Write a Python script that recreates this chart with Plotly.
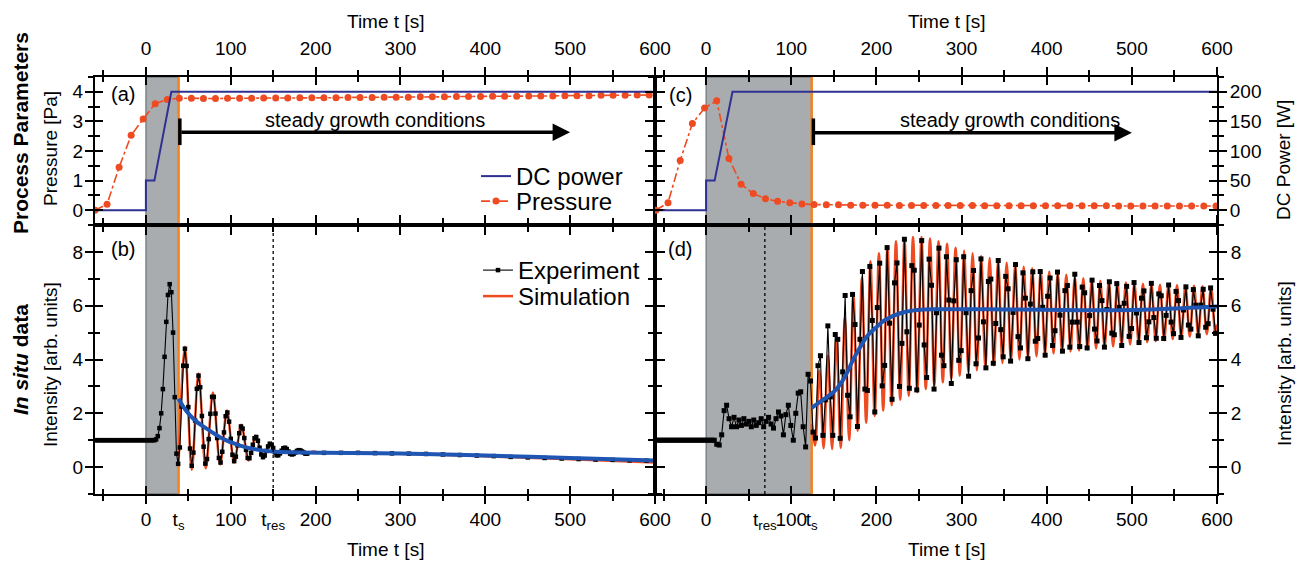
import plotly.graph_objects as go

# ---------------- data ----------------
# (a) / (c) process parameters
power_a_t = [-60, 0, 0, 10, 30, 600]
power_a_w = [0, 0, 50, 50, 200, 200]
power_c_t = [-60, 0, 0, 10, 31, 600]
power_c_w = [0, 0, 50, 50, 200, 200]

pressure_a_t0, pressure_a_dt = -60.0, 14.2
pressure_a_p = [0.0, 0.2, 1.45, 2.53, 3.08, 3.6, 3.74, 3.78, 3.78, 3.77, 3.77, 3.78, 3.78, 3.78,
                3.79, 3.79, 3.79, 3.8, 3.8, 3.8, 3.8, 3.81, 3.81, 3.81, 3.82, 3.82, 3.82, 3.83,
                3.83, 3.83, 3.84, 3.84, 3.84, 3.85, 3.85, 3.85, 3.86, 3.86, 3.86, 3.87, 3.87,
                3.87, 3.88, 3.88, 3.88, 3.89, 3.89]
pressure_c_t0, pressure_c_dt = -59.0, 14.3
pressure_c_p = [0.0, 0.25, 1.68, 2.93, 3.45, 3.7, 1.75, 0.88, 0.56, 0.39, 0.3, 0.25, 0.21, 0.19,
                0.18, 0.18, 0.17, 0.17, 0.17, 0.17, 0.16, 0.16, 0.16, 0.16, 0.16, 0.16, 0.16,
                0.15, 0.15, 0.15, 0.15, 0.15, 0.15, 0.15, 0.15, 0.15, 0.15, 0.15, 0.14, 0.14,
                0.14, 0.14, 0.14, 0.14, 0.14, 0.14, 0.14]

# (b) in situ data, low-rate case
t_s_b, t_res_b = 38.5, 150
exp_b_t0, exp_b_dt = -60.0, 2.0
exp_b_v = [
    1.0, 1.0, 1.0, 1.0, 1.0, 1.0, 1.0, 1.0, 1.0, 1.0, 1.0, 1.0, 1.0, 1.0, 1.0, 1.0, 1.0, 1.0,
    1.0, 1.0, 1.0, 1.0, 1.0, 1.0, 1.0, 1.0, 1.0, 1.0, 1.0, 1.0, 1.0, 1.0, 1.0, 1.0, 1.0, 1.0,
    1.03, 1.15, 1.45, 2.0, 2.9, 4.1, 5.4, 6.4, 6.8, 6.5, 5.0, 2.6, 0.5, 0.12,
    0.73, 2.25, 3.77, 4.4, 3.76, 2.23, 0.69, 0.05, 0.54, 1.73, 2.91, 3.4, 2.97, 1.9, 0.76,
    0.13, 0.3, 1.04, 1.98, 2.61, 2.61, 1.99, 1.08, 0.34, 0.17, 0.57, 1.29, 1.89, 2.03, 1.69,
    1.05, 0.46, 0.22, 0.39, 0.81, 1.26, 1.51, 1.43, 1.08, 0.64, 0.34, 0.33, 0.53, 0.83, 1.07,
    1.12, 0.98, 0.72, 0.47, 0.37, 0.43, 0.6, 0.77, 0.87, 0.84, 0.71, 0.55, 0.44, 0.44, 0.51,
    0.61, 0.7, 0.72, 0.67, 0.58, 0.5, 0.47, 0.49, 0.54, 0.6, 0.63, 0.62, 0.58, 0.54, 0.5, 0.51]
exp_b_tail_t0, exp_b_tail_dt = 190.0, 20.0
exp_b_tail_v = [0.51, 0.53, 0.53, 0.53, 0.52, 0.51, 0.5, 0.49, 0.47, 0.45, 0.43, 0.41, 0.38,
                0.36, 0.34, 0.32, 0.3, 0.28, 0.27, 0.25, 0.24]
sim_b_t = [38.5, 46, 54, 62, 70.5, 79, 87.5, 95.5, 104, 112.5, 121, 129.5, 138, 146.5, 155,
           163.5, 172, 180.5, 189, 197.5, 206, 215, 240, 300, 400, 500, 600]
sim_b_v = [0.15, 4.47, -0.1, 3.48, -0.05, 2.77, 0.1, 2.1, 0.17, 1.57, 0.25, 1.17, 0.33, 0.9,
           0.4, 0.74, 0.46, 0.64, 0.5, 0.58, 0.52, 0.55, 0.54, 0.5, 0.4, 0.29, 0.17]
fit_b_t = [38.5, 45, 52, 60, 72, 91, 111, 131, 150, 170, 210, 300, 400, 500, 600]
fit_b_v = [2.54, 2.2, 1.92, 1.68, 1.42, 1.05, 0.8, 0.65, 0.58, 0.55, 0.53, 0.51, 0.43, 0.34, 0.25]

# (d) in situ data, high-rate case
t_s_d, t_res_d = 124, 69
exp_d_t0, exp_d_dt = -60.0, 2.9
exp_d_v = [
    1.0, 1.0, 1.0, 1.0, 1.0, 1.0, 1.0, 1.0, 1.0, 1.0, 1.0, 1.0, 1.0, 1.0, 1.0, 1.0, 1.0, 1.0,
    1.0, 1.0, 1.0, 1.0, 1.0, 1.0, 1.0,
    0.85, 0.82, 1.2, 2.1, 2.3, 1.8, 1.5, 1.85, 1.5, 1.75, 1.55, 1.8, 1.6, 1.7, 1.5, 1.75, 1.55,
    1.65, 1.8, 1.5, 1.7, 1.85, 1.6, 1.45, 1.8, 2.05, 1.9, 1.2, 1.95, 2.3, 1.55, 1.0, 2.0, 2.75,
    2.8, 1.5, 0.75, 3.45, 3.2, 1.3,
    1.08, 3.77, 4.14, 1.18, 2.5, 5.25, 2.61, 1.18, 4.93, 4.75, 1.07, 3.54, 6.38, 2.67, 1.87,
    6.42, 5.3, 1.51, 4.75, 7.27, 2.9, 2.85, 7.46, 5.45, 2.05, 5.93, 7.58, 3.02, 3.78, 8.16,
    5.35, 2.52, 6.85, 7.59, 3.0, 4.6, 8.47, 5.03, 2.93, 7.49, 7.32, 2.87, 5.28, 8.42, 4.54,
    3.33, 7.73, 6.76, 2.9, 5.74, 8.14, 4.16, 3.77, 7.82, 6.21, 3.11, 6.18, 7.71, 3.97, 4.33,
    7.82, 5.74, 3.38, 6.56, 7.31, 3.84, 4.8, 7.74, 5.4, 3.69, 6.9, 6.99, 3.86, 5.34, 7.68,
    5.11, 4.1, 7.09, 6.63, 3.94, 5.75, 7.53, 4.85, 4.43, 7.22, 6.28, 4.03, 6.06, 7.26, 4.68,
    4.78, 7.27, 5.94, 4.16, 6.35, 7.03, 4.52, 5.07, 7.25, 5.65, 4.31, 6.56, 6.75, 4.46, 5.39,
    7.17, 5.39, 4.48, 6.69, 6.48, 4.43, 5.63, 6.95, 5.13, 4.69, 6.75, 6.19, 4.46, 5.86, 6.89,
    4.98, 4.92, 6.82, 5.94, 4.52, 6.09, 6.72, 4.86, 5.15, 6.86, 5.73, 4.63, 6.28, 6.55, 4.81,
    5.4, 6.83, 5.56, 4.79, 6.44, 6.37, 4.78, 5.64, 6.77, 5.39, 4.96, 6.53, 6.19, 4.82, 5.84,
    6.7, 5.28, 5.13, 6.6, 6.02, 4.88, 6.02, 6.61, 5.2, 5.33, 6.66, 5.87, 4.97]
sim_d_t = [124, 128, 133, 138, 143, 148, 153, 158, 163, 168, 173, 178, 183, 188, 193, 198, 203,
           208, 213, 218, 223, 228, 233, 238, 243, 248, 253, 258, 263, 268, 273, 278, 283, 288,
           293, 298, 303, 308, 313, 318, 323, 328, 333, 338, 343, 348, 353, 358, 363, 368, 373,
           378, 383, 388, 393, 398, 403, 408, 413, 418, 423, 428, 433, 438, 443, 448, 453, 458,
           463, 468, 473, 478, 483, 488, 493, 498, 503, 508, 513, 518, 523, 528, 533, 538, 543,
           548, 553, 558, 563, 568, 573, 578, 583, 588, 593, 598, 600]
sim_d_v = [1.6, 0.8, 3.6, 0.7, 4.15, 0.67, 4.85, 0.72, 5.55, 1.0, 6.4, 1.35, 7.05, 1.65, 7.65,
           1.9, 7.95, 2.1, 8.2, 2.3, 8.4, 2.5, 8.5, 2.65, 8.55, 2.78, 8.55, 2.9, 8.5, 3.02, 8.4,
           3.15, 8.3, 3.28, 8.15, 3.4, 8.05, 3.52, 7.95, 3.6, 7.85, 3.68, 7.77, 3.78, 7.7, 3.87,
           7.6, 3.94, 7.52, 4.0, 7.45, 4.06, 7.39, 4.12, 7.33, 4.17, 7.27, 4.22, 7.2, 4.27, 7.15,
           4.3, 7.08, 4.33, 7.02, 4.37, 6.97, 4.41, 6.93, 4.45, 6.9, 4.48, 6.88, 4.52, 6.86,
           4.56, 6.84, 4.6, 6.82, 4.64, 6.8, 4.68, 6.78, 4.72, 6.77, 4.76, 6.76, 4.8, 6.75, 4.85,
           6.74, 4.9, 6.72, 4.94, 6.7, 4.97, 5.3]
fit_d_t = [124, 135, 150, 160, 166, 172, 178, 190, 200, 210, 228, 248, 275, 350, 420, 470, 530, 600]
fit_d_v = [2.2, 2.45, 2.8, 3.2, 3.54, 3.95, 4.3, 4.9, 5.2, 5.47, 5.72, 5.84, 5.87, 5.86, 5.84,
           5.83, 5.87, 5.97]

power_ticks = [0, 50, 100, 150, 200]
power_ticktext = ["0", "50", "100", "150", "200"]

# ---------------- styling ----------------
FONT = "Liberation Sans, Arial, Helvetica, sans-serif"
BLACK = "black"
RED = "#EE4B22"
ORANGE = "#F5821F"
NAVY = "#2E3192"
BLUE = "#1F55B3"
GRAY = "#A8ACAF"
W, H = 1297, 561


def px(x):
    return x / W


def py(y):
    return 1 - y / H


XL = [px(95), px(655)]
XR = [px(655), px(1217)]
YT = [py(225), py(77)]
YB = [py(494), py(225)]
XRANGE = [-60, 600]
PRANGE = [-0.5, 4.5]
WRANGE = [-25, 225]
IRANGE = [-1, 9]
TICKFONT = dict(family=FONT, size=19, color=BLACK)


def ax(ticks, major, minor, rng, labels=False, **kw):
    d = dict(range=rng, showgrid=False, zeroline=False, showline=True, linecolor=BLACK,
             linewidth=2, mirror="ticks", ticks=ticks, tickmode="linear", tick0=0,
             dtick=major, ticklen=8, tickwidth=2, tickcolor=BLACK, automargin=False,
             minor=dict(ticks=ticks, tickmode="linear", tick0=0, dtick=minor, ticklen=5,
                        tickwidth=2, tickcolor=BLACK, showgrid=False),
             showticklabels=labels, tickfont=TICKFONT, tickangle=0)
    d.update(kw)
    return d


def label_ax(rng, vals, texts, **kw):
    d = dict(range=rng, showgrid=False, zeroline=False, showline=False, ticks="outside",
             ticklen=8, tickwidth=2, tickcolor="rgba(0,0,0,0)", tickmode="array",
             tickvals=vals, ticktext=texts, showticklabels=True, tickfont=TICKFONT,
             tickangle=0, automargin=False)
    d.update(kw)
    return d


fig = go.Figure()

# (a)
fig.add_trace(go.Scatter(x=power_a_t, y=power_a_w, xaxis="x", yaxis="y2", mode="lines",
                         line=dict(color=NAVY, width=2), name="DC power", legend="legend"))
fig.add_trace(go.Scatter(x0=pressure_a_t0, dx=pressure_a_dt, y=pressure_a_p, xaxis="x",
                         yaxis="y", mode="lines+markers", name="Pressure", legend="legend3",
                         line=dict(color=RED, width=1.6, dash="dashdot"),
                         marker=dict(symbol="circle", size=7, color=RED)))
# (c)
fig.add_trace(go.Scatter(x=power_c_t, y=power_c_w, xaxis="x2", yaxis="y4", mode="lines",
                         line=dict(color=NAVY, width=2), showlegend=False))
fig.add_trace(go.Scatter(x0=pressure_c_t0, dx=pressure_c_dt, y=pressure_c_p, xaxis="x2",
                         yaxis="y3", mode="lines+markers", showlegend=False,
                         line=dict(color=RED, width=1.6, dash="dashdot"),
                         marker=dict(symbol="circle", size=7, color=RED)))
# (b)
fig.add_trace(go.Scatter(x=sim_b_t, y=sim_b_v, xaxis="x3", yaxis="y5", mode="lines",
                         line=dict(color=RED, width=2.5, shape="spline", smoothing=1.0),
                         name="Simulation", legend="legend4"))
fig.add_trace(go.Scatter(x0=exp_b_t0, dx=exp_b_dt, y=exp_b_v, xaxis="x3", yaxis="y5",
                         mode="lines+markers", name="Experiment", legend="legend2",
                         line=dict(color=BLACK, width=1.1),
                         marker=dict(symbol="square", size=4.5, color=BLACK)))
fig.add_trace(go.Scatter(x0=exp_b_tail_t0, dx=exp_b_tail_dt, y=exp_b_tail_v, xaxis="x3",
                         yaxis="y5", mode="lines+markers", showlegend=False,
                         line=dict(color=BLACK, width=1.1),
                         marker=dict(symbol="square", size=4.5, color=BLACK)))
fig.add_trace(go.Scatter(x=fit_b_t, y=fit_b_v, xaxis="x3", yaxis="y5", mode="lines",
                         line=dict(color=BLUE, width=4, shape="spline"), showlegend=False))
# (d)
fig.add_trace(go.Scatter(x=sim_d_t, y=sim_d_v, xaxis="x4", yaxis="y6", mode="lines",
                         line=dict(color=RED, width=2.5, shape="spline", smoothing=1.0),
                         showlegend=False))
fig.add_trace(go.Scatter(x0=exp_d_t0, dx=exp_d_dt, y=exp_d_v, xaxis="x4", yaxis="y6",
                         mode="lines+markers", showlegend=False,
                         line=dict(color=BLACK, width=1.1),
                         marker=dict(symbol="square", size=5, color=BLACK)))
fig.add_trace(go.Scatter(x=fit_d_t, y=fit_d_v, xaxis="x4", yaxis="y6", mode="lines",
                         line=dict(color=BLUE, width=4, shape="spline"), showlegend=False))

# empty traces that register the tick / label overlay axes so that they are drawn
for xa, ya in [("x5", "y"), ("x", "y7"), ("x6", "y3"), ("x2", "y8"), ("x7", "y5"),
               ("x3", "y9"), ("x9", "y5"), ("x8", "y6"), ("x4", "y10"), ("x10", "y6")]:
    fig.add_trace(go.Scatter(x=[], y=[], xaxis=xa, yaxis=ya, mode="lines",
                             showlegend=False, hoverinfo="skip"))

bvals_b = [0, t_s_b, 100, t_res_b, 200, 300, 400, 500, 600]
btext_b = ["0", "t<sub>s</sub>", "100", "t<sub>res</sub>", "200", "300", "400", "500", "600"]
bvals_d = [0, t_res_d, 100, t_s_d, 200, 300, 400, 500, 600]
btext_d = ["0", "t<sub>res</sub>", "100", "t<sub>s</sub>", "200", "300", "400", "500", "600"]

LEGFONT = dict(family=FONT, size=24, color=BLACK)


def leg(x, y):
    return dict(x=px(x), y=py(y), xanchor="left", yanchor="top", bgcolor="rgba(0,0,0,0)",
                borderwidth=0, font=LEGFONT)


layout = dict(
    template="none",
    width=W, height=H, autosize=False,
    margin=dict(l=0, r=0, t=0, b=0, pad=0, autoexpand=False),
    paper_bgcolor="white", plot_bgcolor="rgba(0,0,0,0)",
    font=dict(family=FONT, size=19, color=BLACK),
    showlegend=True,
    # panel (a)
    xaxis=ax("outside", 100, 50, XRANGE, labels=True, domain=XL, anchor="y", side="top",
             ticklabelstandoff=4),
    xaxis5=ax("inside", 100, 50, XRANGE, overlaying="x", anchor="y", side="top"),
    yaxis=ax("outside", 1, 0.5, PRANGE, labels=True, domain=YT, anchor="x", side="left",
             ticklabelstandoff=-2),
    yaxis7=ax("inside", 1, 0.5, PRANGE, overlaying="y", anchor="x", side="left"),
    yaxis2=dict(range=WRANGE, overlaying="y", anchor="x", visible=False, automargin=False),
    # panel (c)
    xaxis2=ax("outside", 100, 50, XRANGE, labels=True, domain=XR, anchor="y3", side="top",
              ticklabelstandoff=4),
    xaxis6=ax("inside", 100, 50, XRANGE, overlaying="x2", anchor="y3", side="top"),
    yaxis3=ax("outside", 1, 0.5, PRANGE, domain=YT, anchor="x2", side="left"),
    yaxis8=ax("inside", 1, 0.5, PRANGE, overlaying="y3", anchor="x2", side="left"),
    yaxis4=label_ax(WRANGE, power_ticks, power_ticktext,
                    overlaying="y3", anchor="x2", side="right"),
    # panel (b)
    xaxis3=ax("outside", 100, 50, XRANGE, domain=XL, anchor="y5", side="bottom"),
    xaxis7=ax("inside", 100, 50, XRANGE, overlaying="x3", anchor="y5", side="bottom"),
    xaxis9=label_ax(XRANGE, bvals_b, btext_b, overlaying="x3", anchor="y5", side="bottom"),
    yaxis5=ax("outside", 2, 1, IRANGE, labels=True, domain=YB, anchor="x3", side="left",
              ticklabelstandoff=-2),
    yaxis9=ax("inside", 2, 1, IRANGE, overlaying="y5", anchor="x3", side="left"),
    # panel (d)
    xaxis4=ax("outside", 100, 50, XRANGE, domain=XR, anchor="y6", side="bottom"),
    xaxis8=ax("inside", 100, 50, XRANGE, overlaying="x4", anchor="y6", side="bottom"),
    xaxis10=label_ax(XRANGE, bvals_d, btext_d, overlaying="x4", anchor="y6", side="bottom"),
    yaxis6=ax("outside", 2, 1, IRANGE, labels=True, domain=YB, anchor="x4", side="right"),
    yaxis10=ax("inside", 2, 1, IRANGE, overlaying="y6", anchor="x4", side="right"),
    legend=leg(476, 154),
    legend3=leg(476, 179),
    legend2=leg(478, 248),
    legend4=leg(478, 274),
)
fig.update_layout(**layout)

span = dict(yref="paper", y0=YB[0], y1=YT[1])
shapes = [
    dict(type="rect", xref="x", x0=0, x1=t_s_b, fillcolor=GRAY, layer="below",
         line=dict(color="#5F6366", width=1), **span),
    dict(type="rect", xref="x2", x0=0, x1=t_s_d, fillcolor=GRAY, layer="below",
         line=dict(color="#5F6366", width=1), **span),
    dict(type="line", xref="x", x0=t_s_b, x1=t_s_b, line=dict(color=ORANGE, width=2.5),
         layer="below", **span),
    dict(type="line", xref="x2", x0=t_s_d, x1=t_s_d, line=dict(color=ORANGE, width=2.5),
         layer="below", **span),
    dict(type="line", xref="x3", yref="y5 domain", x0=t_res_b, x1=t_res_b, y0=0, y1=1,
         line=dict(color=BLACK, width=1.3, dash="dot")),
    dict(type="line", xref="x4", yref="y6 domain", x0=t_res_d, x1=t_res_d, y0=0, y1=1,
         line=dict(color=BLACK, width=1.3, dash="dot")),
    dict(type="line", xref="x", yref="y", x0=t_s_b + 1.5, x1=t_s_b + 1.5, y0=2.2, y1=3.1,
         line=dict(color=BLACK, width=3.5)),
    dict(type="line", xref="x2", yref="y3", x0=t_s_d + 2, x1=t_s_d + 2, y0=2.2, y1=3.1,
         line=dict(color=BLACK, width=3.5)),
]
fig.update_layout(shapes=shapes)


def txt(x, y, s, size=19, angle=0, **kw):
    d = dict(x=px(x), y=py(y), xref="paper", yref="paper", text=s, showarrow=False,
             textangle=angle, font=dict(family=FONT, size=size, color=BLACK),
             xanchor="center", yanchor="middle")
    d.update(kw)
    return d


annotations = [
    txt(385, 21, "Time t [s]"),
    txt(946, 21, "Time t [s]"),
    txt(385, 549, "Time t [s]"),
    txt(946, 549, "Time t [s]"),
    txt(50, 149, "Pressure [Pa]", angle=-90),
    txt(50, 365, "Intensity [arb. units]", angle=-90),
    txt(1284, 160, "DC Power [W]", angle=-90),
    txt(1284, 364, "Intensity [arb. units]", angle=-90),
    txt(20, 133, "<b>Process Parameters</b>", size=21, angle=-90),
    txt(20, 360, "<b><i>In situ</i> data</b>", size=21, angle=-90),
    txt(123, 94, "(a)", size=20),
    txt(123, 249, "(b)", size=20),
    txt(680, 95, "(c)", size=20),
    txt(680, 249, "(d)", size=20),
    dict(x=270, y=3.04, xref="x", yref="y", text="steady growth conditions", showarrow=False,
         font=dict(family=FONT, size=20, color=BLACK)),
    dict(x=357, y=3.04, xref="x2", yref="y3", text="steady growth conditions", showarrow=False,
         font=dict(family=FONT, size=20, color=BLACK)),
    dict(x=500, y=2.63, xref="x", yref="y", ax=t_s_b + 1.5, ay=2.63, axref="x", ayref="y",
         text="", showarrow=True, arrowhead=2, arrowsize=1, arrowwidth=3.5, arrowcolor=BLACK),
    dict(x=500, y=2.62, xref="x2", yref="y3", ax=t_s_d + 2, ay=2.62, axref="x2", ayref="y3",
         text="", showarrow=True, arrowhead=2, arrowsize=1, arrowwidth=3.5, arrowcolor=BLACK),
]
fig.update_layout(annotations=annotations)

# the page body gets no margin so that the 1297x561 figure fills the window exactly
fig.write_html("out.html",
               config={"displayModeBar": False},
               post_script="document.body.style.margin='0px';"
                           "document.body.style.overflow='hidden';")
